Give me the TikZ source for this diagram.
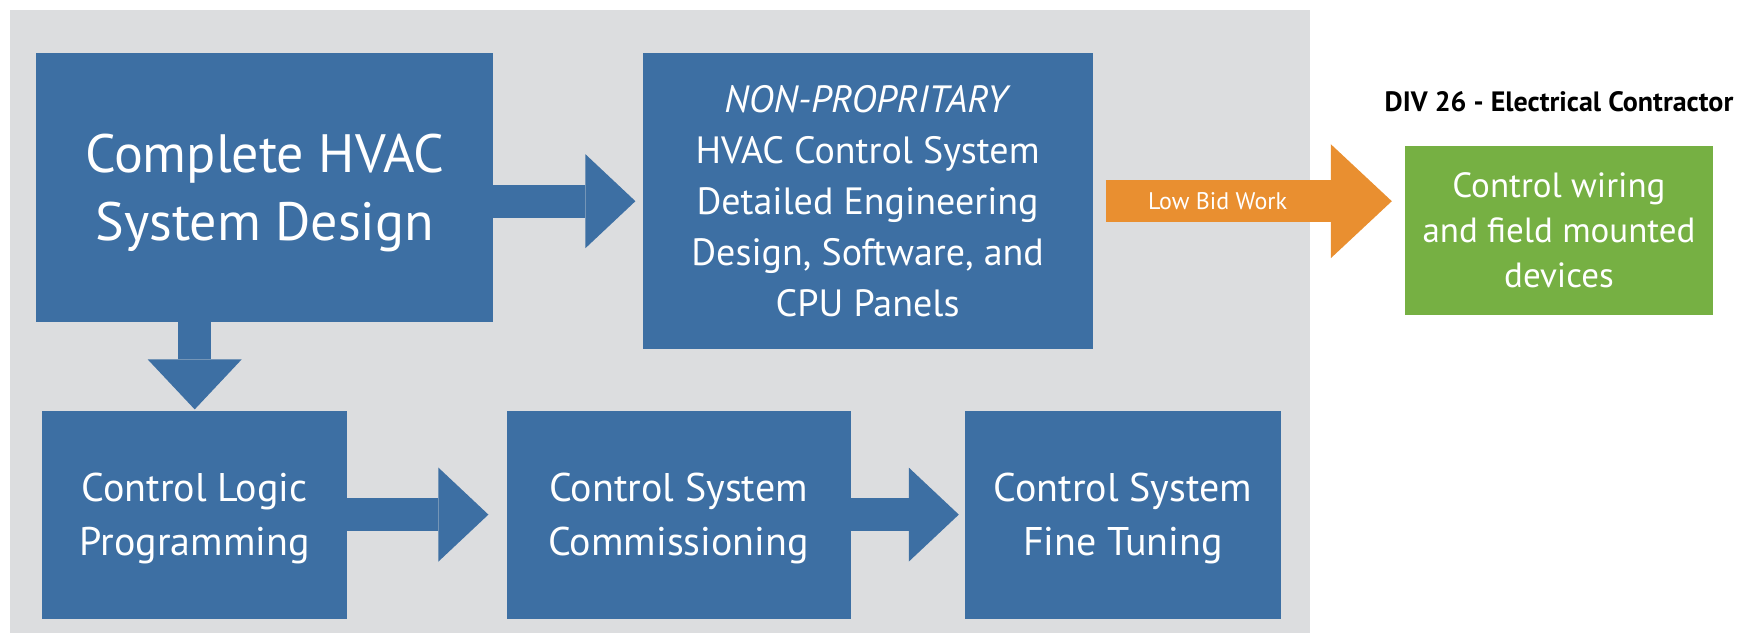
\documentclass[tikz,border=0pt]{standalone}
\usepackage{fontspec}
\setmainfont{PT Sans}
\usetikzlibrary{arrows.meta,positioning}
\definecolor{panelgrey}{RGB}{220,221,223}
\definecolor{hvacblue}{RGB}{61,111,163}
\definecolor{bidorange}{RGB}{233,143,48}
\definecolor{wiregreen}{RGB}{118,176,67}

\begin{document}
\begin{tikzpicture}[x=1pt,y=1pt,
    bluebox/.style={fill=hvacblue,text=white,inner sep=0pt,align=center,text depth=0pt},
    stagebox/.style={bluebox,minimum height=208pt,font=\fontsize{40}{54}\selectfont},
    fatarrow/.style={draw=hvacblue,line width=33pt,
      -{Triangle[length=50pt,width=94pt,line width=0pt]}},
    bidarrow/.style={draw=bidorange,line width=42pt,
      -{Triangle[length=61pt,width=114pt,line width=0pt]}}]

    \useasboundingbox (0,0) rectangle (1752,633);
    \fill[panelgrey] (10,0) rectangle (1310,623);

    \node[bluebox,anchor=north west,minimum width=457pt,minimum height=269pt,
        font=\fontsize{54}{68}\selectfont] (design) at (36,580)
        {Complete HVAC\\System Design};
    \node[bluebox,minimum width=450pt,minimum height=296pt,
        font=\fontsize{38}{51}\selectfont,
        below right=0pt and 149pt of design.north east] (nonprop)
        {\textit{NON-PROPRITARY}\\HVAC Control System\\Detailed Engineering\\Design, Software, and\\CPU Panels};
    \node[fill=wiregreen,text=white,inner sep=0pt,align=center,
        minimum width=308pt,minimum height=169pt,
        font=\fontsize{35}{45}\selectfont,
        below right=93pt and 312pt of nonprop.north east] (wiring)
        {Control wiring\\and field mounted\\devices};
    \node[inner sep=0pt,font=\fontsize{28}{32}\selectfont\bfseries,
        above=34pt of wiring] (div) {DIV 26 - Electrical Contractor};

    \node[stagebox,minimum width=305pt,
        below right=88pt and 6pt of design.south west] (logic)
        {Control Logic\\Programming};
    \node[stagebox,minimum width=344pt,right=159pt of logic] (commission)
        {Control System\\Commissioning};
    \node[stagebox,minimum width=316pt,right=114pt of commission] (tuning)
        {Control System\\Fine Tuning};

    \draw[fatarrow,shorten >=7pt] (design.east |- nonprop.west) -- (nonprop.west);
    \draw[fatarrow,shorten >=1pt] (design.south -| logic.north) -- (logic.north);
    \draw[fatarrow,shorten >=18pt] (logic) -- (commission);
    \draw[fatarrow,shorten >=6pt] (commission) -- (tuning);
    \draw[bidarrow,shorten <=13pt,shorten >=13pt] (nonprop.east) -- (nonprop.east -| wiring.west)
        node[pos=0.4,text=white,font=\fontsize{24}{28}\selectfont] {Low Bid Work};
\end{tikzpicture}
\end{document}
